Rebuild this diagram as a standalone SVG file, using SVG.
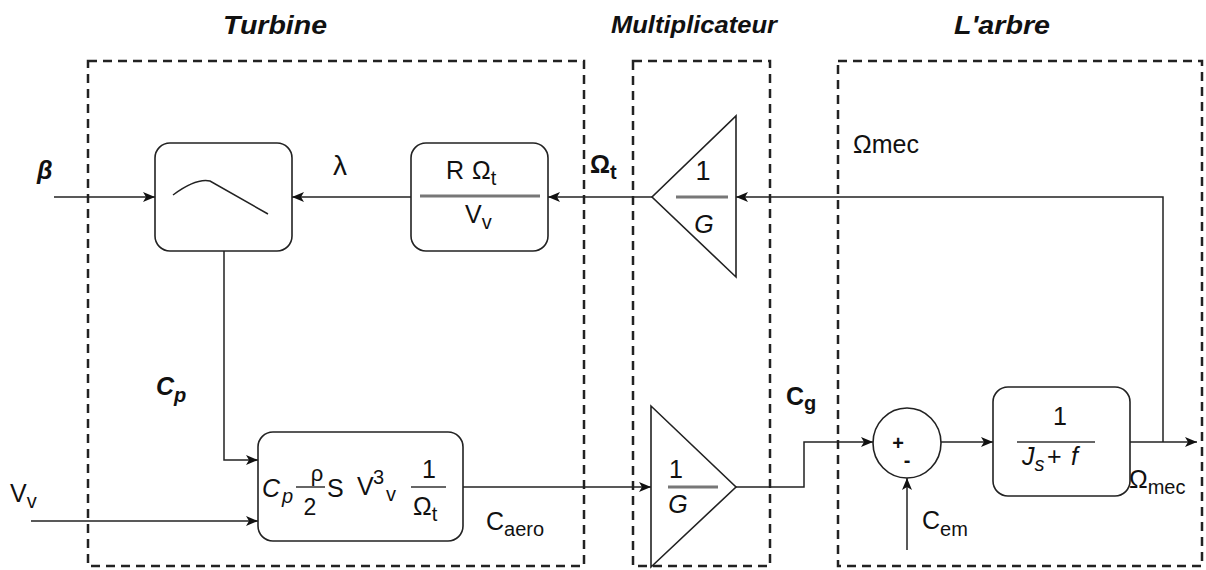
<svg xmlns="http://www.w3.org/2000/svg" width="1206" height="570" viewBox="0 0 1206 570">
<style>
text{font-family:"Liberation Sans",Arial,sans-serif;fill:#111;font-size:25px}
.t{font-size:26px;font-weight:bold;font-style:italic}
.b{font-weight:bold}
.i{font-style:italic}
.s{font-size:20px}
.dash{fill:none;stroke:#222;stroke-width:2.5;stroke-dasharray:9 6}
.blk{fill:#fff;stroke:#222;stroke-width:1.6}
.ln{fill:none;stroke:#222;stroke-width:1.5}
.fr{stroke:#777;stroke-width:3}
.frb{stroke:#333;stroke-width:1.5}
</style>
<defs>
<marker id="a" viewBox="0 0 12 10" refX="12" refY="5" markerWidth="12" markerHeight="10" markerUnits="userSpaceOnUse" orient="auto">
<path d="M0,0 L12,5 L0,10 L3,5 Z" fill="#111"/>
</marker>
</defs>
<rect width="1206" height="570" fill="#fff"/>

<g id="titles">
<text class="t" x="223" y="34" textLength="104" lengthAdjust="spacingAndGlyphs">Turbine</text>
<text class="t" x="611" y="33" style="font-size:23px" textLength="166" lengthAdjust="spacingAndGlyphs">Multiplicateur</text>
<text class="t" x="954" y="34" textLength="96" lengthAdjust="spacingAndGlyphs">L'arbre</text>
</g>

<g id="frames">
<rect class="dash" x="88" y="61" width="496" height="505"/>
<rect class="dash" x="633" y="61" width="137" height="505"/>
<rect class="dash" x="838" y="61" width="364" height="505"/>
</g>

<g id="connectors">
<path class="ln" d="M54,197 H155" marker-end="url(#a)"/>
<path class="ln" d="M411,197 H292" marker-end="url(#a)"/>
<path class="ln" d="M652,197 H548" marker-end="url(#a)"/>
<path class="ln" d="M1163,442 V197 H736" marker-end="url(#a)"/>
<path class="ln" d="M224,251 V460 H258" marker-end="url(#a)"/>
<path class="ln" d="M31,521 H258" marker-end="url(#a)"/>
<path class="ln" d="M463,487 H651" marker-end="url(#a)"/>
<path class="ln" d="M736,487 H804 V442 H873" marker-end="url(#a)"/>
<path class="ln" d="M907,550 V478" marker-end="url(#a)"/>
<path class="ln" d="M941,442 H993" marker-end="url(#a)"/>
<path class="ln" d="M1130,442 H1197" marker-end="url(#a)"/>
</g>

<g id="cp-curve">
<rect class="blk" x="155" y="143" width="137" height="108" rx="15"/>
<path class="ln" d="M173,195 Q196,178 210,181 L268,214"/>
</g>

<g id="lambda-block">
<rect class="blk" x="411" y="143" width="137" height="108" rx="15"/>
<line class="fr" x1="420" y1="196" x2="540" y2="196"/>
<text x="446" y="179">R<tspan x="472">Ω</tspan><tspan class="s" dy="6">t</tspan></text>
<text x="465" y="223">V<tspan class="s" dy="6">v</tspan></text>
</g>

<g id="gain-top">
<path class="blk" d="M736,116 V277 L652,197 Z"/>
<line class="fr" x1="676" y1="197" x2="728" y2="197"/>
<text x="703" y="180" text-anchor="middle" style="font-size:27px">1</text>
<text class="i" x="704" y="233" text-anchor="middle">G</text>
</g>

<g id="aero-block">
<rect class="blk" x="258" y="432" width="205" height="109" rx="15"/>
<text class="i" x="262" y="497">C<tspan class="s" x="282" dy="6">p</tspan></text>
<line class="frb" x1="296" y1="487" x2="325" y2="487"/>
<text x="317" y="481" text-anchor="middle" style="font-size:22px">ρ</text>
<text x="310" y="515" text-anchor="middle" style="font-size:23px">2</text>
<text x="327" y="497">S</text>
<text x="357" y="495">V<tspan class="s" x="373" dy="-11">3</tspan><tspan class="s" x="386" dy="17">v</tspan></text>
<line class="frb" x1="411" y1="487" x2="446" y2="487"/>
<text x="429" y="478" text-anchor="middle">1</text>
<text x="413" y="515">Ω<tspan class="s" dy="6">t</tspan></text>
</g>

<g id="gain-bottom">
<path class="blk" d="M651,406 V567 L736,487 Z"/>
<line class="fr" x1="668" y1="487" x2="718" y2="487"/>
<text x="676" y="478" text-anchor="middle">1</text>
<text class="i" x="678" y="513" text-anchor="middle">G</text>
</g>

<g id="sum">
<ellipse class="blk" cx="907" cy="443" rx="34" ry="35"/>
<text class="b" x="898" y="450" text-anchor="middle" style="font-size:20px">+</text>
<text class="b" x="907" y="467" text-anchor="middle" style="font-size:20px">-</text>
</g>

<g id="shaft-block">
<rect class="blk" x="993" y="387" width="137" height="109" rx="15"/>
<line class="frb" x1="1017" y1="442" x2="1095" y2="442"/>
<text x="1060" y="425" text-anchor="middle">1</text>
<text class="i" x="1022" y="465">J<tspan class="s" dy="6">s</tspan><tspan dy="-6" font-style="normal" x="1047">+</tspan><tspan x="1071">f</tspan></text>
</g>

<g id="labels">
<text class="b i" x="37" y="179">β</text>
<text x="333" y="175" style="font-size:28px">λ</text>
<text class="b" x="590" y="173">Ω<tspan class="s" dy="6">t</tspan></text>
<text x="853" y="153">Ωmec</text>
<text class="b i" x="156" y="395">C<tspan class="s" dy="7">p</tspan></text>
<text x="10" y="502">V<tspan class="s" dy="6">v</tspan></text>
<text x="486" y="530">C<tspan class="s" dy="6">aero</tspan></text>
<text class="b" x="786" y="405">C<tspan class="s" dy="5">g</tspan></text>
<text x="922" y="529">C<tspan class="s" dy="7">em</tspan></text>
<text x="1129" y="488">Ω<tspan class="s" dy="6">mec</tspan></text>
</g>
</svg>
